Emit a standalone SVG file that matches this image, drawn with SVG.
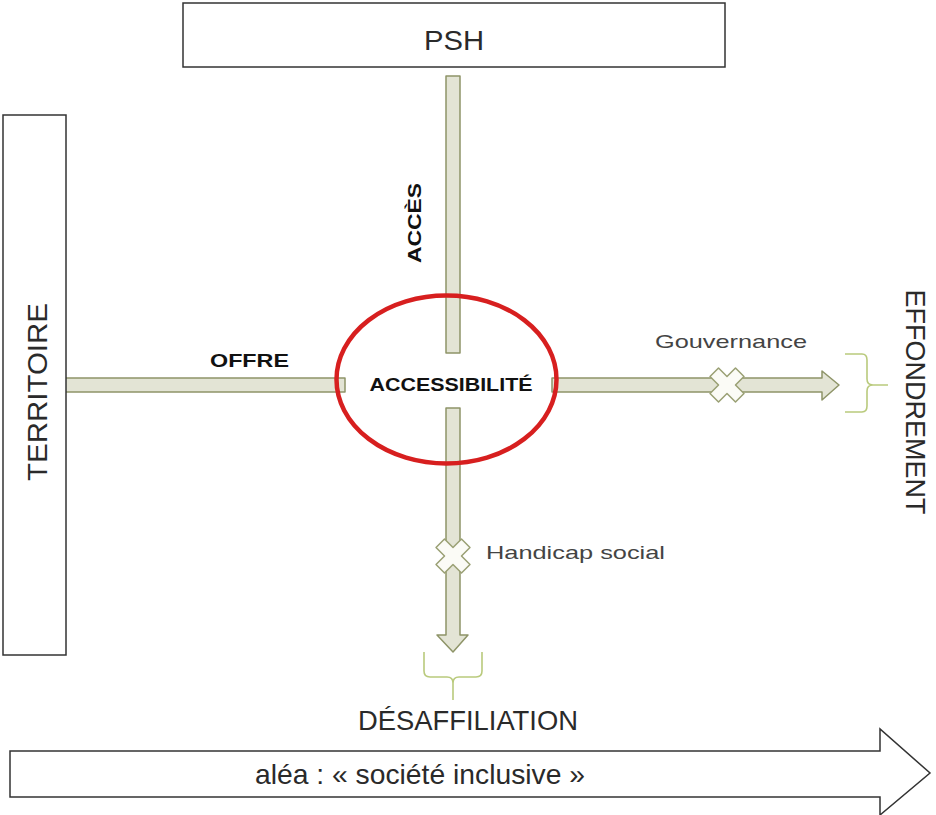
<svg xmlns="http://www.w3.org/2000/svg" width="936" height="815" viewBox="0 0 936 815">
<style>
.box{fill:#fff;stroke:#333;stroke-width:1.5}
.bar{fill:#e3e4d5;stroke:#8e9468;stroke-width:1.5;stroke-linejoin:round}
.xm{fill:#fbfbf6;stroke:#9aa074;stroke-width:1.5;stroke-linejoin:round}
.br{fill:none;stroke:#b9ca7c;stroke-width:1.6}
.lt{font-family:"Liberation Sans",Arial,sans-serif;fill:#2a2a2a}
.bd{font-family:"Liberation Sans",Arial,sans-serif;font-weight:bold;fill:#111}
.gr{font-family:"Liberation Sans",Arial,sans-serif;fill:#444}
</style>
<defs>
<polygon id="cross" points="-6,-18 6,-18 6,-6 18,-6 18,6 6,6 6,18 -6,18 -6,6 -18,6 -18,-6 -6,-6" transform="rotate(45)"/>
</defs>
<rect width="936" height="815" fill="#fff"/>
<g id="connectors">
<rect class="bar" x="446" y="76" width="14" height="277"/>
<rect class="bar" x="62" y="378" width="283" height="14"/>
<path class="bar" d="M446,408 L460,408 L460,635 L468,635 L453,652 L437,635 L446,635 Z"/>
<path class="bar" d="M552,378 L822,378 L822,371 L839,385 L822,400 L822,392 L552,392 Z"/>
<use href="#cross" class="xm" transform="translate(727,385)"/>
<use href="#cross" class="xm" transform="translate(453,556)"/>
<path class="br" d="M845,354 L862,354 Q867,354 867,360 L867,379 Q867,385 873,385 L888,385 M873,385 Q867,385 867,391 L867,406 Q867,412 862,412 L845,412"/>
<path class="br" d="M424,652 L424,671 Q424,677 430,677 L447,677 Q453,677 453,683 L453,700 M453,683 Q453,677 459,677 L476,677 Q482,677 482,671 L482,652"/>
</g>
<g id="psh">
<rect class="box" x="183" y="3" width="542" height="64"/>
<text class="lt" x="454" y="50" font-size="28" text-anchor="middle" textLength="60" lengthAdjust="spacingAndGlyphs">PSH</text>
</g>
<g id="territoire">
<rect class="box" x="3" y="115" width="63" height="540"/>
<text class="lt" transform="translate(47,392) rotate(-90)" font-size="28" text-anchor="middle" textLength="178" lengthAdjust="spacingAndGlyphs">TERRITOIRE</text>
</g>
<g id="accessibilite">
<ellipse cx="446.5" cy="379.5" rx="110" ry="84" fill="none" stroke="#d71f1f" stroke-width="4.5"/>
<text class="bd" x="451" y="391" font-size="19" text-anchor="middle" textLength="163" lengthAdjust="spacingAndGlyphs">ACCESSIBILITÉ</text>
</g>
<g id="labels">
<text class="bd" transform="translate(421,223) rotate(-90)" font-size="19" text-anchor="middle" textLength="80" lengthAdjust="spacingAndGlyphs">ACCÈS</text>
<text class="bd" x="249.5" y="367" font-size="19" text-anchor="middle" textLength="79" lengthAdjust="spacingAndGlyphs">OFFRE</text>
<text class="gr" x="731" y="348" font-size="19" text-anchor="middle" textLength="152" lengthAdjust="spacingAndGlyphs">Gouvernance</text>
<text class="gr" x="575.5" y="559" font-size="19" text-anchor="middle" textLength="179" lengthAdjust="spacingAndGlyphs">Handicap social</text>
</g>
<g id="effondrement">
<text class="lt" transform="translate(906,402) rotate(90)" font-size="28" text-anchor="middle" textLength="225" lengthAdjust="spacingAndGlyphs">EFFONDREMENT</text>
</g>
<g id="desaffiliation">
<text class="lt" x="468" y="730" font-size="28" text-anchor="middle" textLength="220" lengthAdjust="spacingAndGlyphs">DÉSAFFILIATION</text>
</g>
<g id="alea">
<path class="box" d="M10,751 L880,751 L880,729 L930,773 L880,815 L880,797 L10,797 Z"/>
<text class="lt" x="420" y="784" font-size="28" text-anchor="middle" textLength="330" lengthAdjust="spacingAndGlyphs">aléa : « société inclusive »</text>
</g>
</svg>
